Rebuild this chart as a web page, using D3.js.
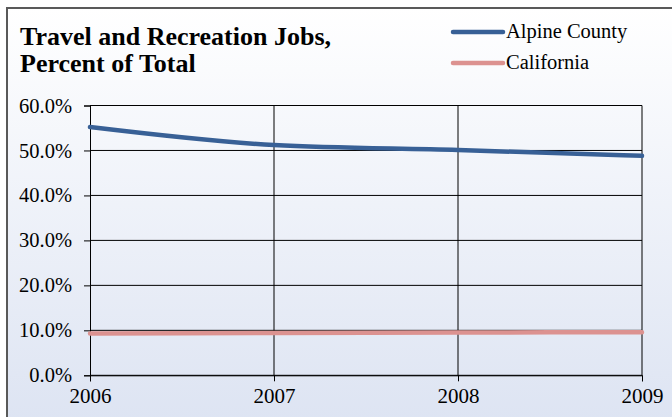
<!DOCTYPE html>
<html><head><meta charset="utf-8">
<script src="https://cdn.jsdelivr.net/npm/d3@7"></script>
<style>html,body{margin:0;padding:0;background:#fff;}svg{display:block;}
svg text{font-family:"Liberation Serif","Times New Roman",serif !important;}</style>
</head><body>
<script>
const years = [2006, 2007, 2008, 2009];
const alpine = [55.2, 51.2, 50.1, 48.8];
const california = [9.3, 9.4, 9.5, 9.6];
const yTicks = [0, 10, 20, 30, 40, 50, 60];
const seriesNames = ["Alpine County", "California"];
const seriesColors = ["#386096", "#dc9290"];

const W = 672, H = 417;
const svg = d3.select("body").append("svg").attr("width", W).attr("height", H);
const defs = svg.append("defs");
const grad = defs.append("linearGradient").attr("id","bg").attr("x1",0).attr("y1",0).attr("x2",0).attr("y2",1);
grad.append("stop").attr("offset","0%").attr("stop-color","#ffffff");
grad.append("stop").attr("offset","100%").attr("stop-color","#dce3f2");
svg.append("rect").attr("x",0).attr("y",0).attr("width",W).attr("height",H).attr("fill","#fff");
svg.append("rect").attr("x",7).attr("y",8).attr("width",W+10).attr("height",H+10).attr("fill","url(#bg)")
  .attr("stroke","#595959").attr("stroke-width",2);

const m = {l:90, r:642, t:105.5, b:375.3};
const x = d3.scaleLinear().domain([2006,2009]).range([m.l, m.r]);
const y = d3.scaleLinear().domain([0,60]).range([m.b, m.t]);

const g = svg.append("g");
g.selectAll(".hg").data(yTicks).join("line")
  .attr("x1", m.l).attr("x2", m.r).attr("y1", d=>y(d)).attr("y2", d=>y(d))
  .attr("stroke","#000").attr("stroke-width",1);
g.selectAll(".vg").data(years.slice(1)).join("line")
  .attr("x1", d=>x(d)).attr("x2", d=>x(d)).attr("y1", m.t).attr("y2", m.b)
  .attr("stroke","#000").attr("stroke-width",1);

const yAxis = d3.axisLeft(y).tickValues(yTicks).tickSize(6).tickPadding(12)
  .tickFormat(d => d.toFixed(1) + "%");
svg.append("g").attr("transform",`translate(${m.l},0)`).call(yAxis)
  .call(a=>{a.select(".domain").attr("stroke","#000");
    a.selectAll("line").attr("stroke","#000");
    a.selectAll("text").attr("font-size","20.5px").attr("fill","#000");});
const xAxis = d3.axisBottom(x).tickValues(years).tickSize(6).tickPadding(7).tickFormat(d3.format("d"));
svg.append("g").attr("transform",`translate(0,${m.b})`).call(xAxis)
  .call(a=>{a.select(".domain").attr("stroke","#000");
    a.selectAll("line").attr("stroke","#000");
    a.selectAll("text").attr("font-size","21px").attr("fill","#000");});

const line = d3.line().x((d,i)=>x(years[i])).y(d=>y(d)).curve(d3.curveMonotoneX);
[alpine, california].forEach((s,i)=>{
  svg.append("path").datum(s).attr("d", line).attr("fill","none")
    .attr("stroke", seriesColors[i]).attr("stroke-width",4.5).attr("stroke-linecap","round");
});

const t = svg.append("text").attr("font-weight","bold").attr("font-size","26px").attr("fill","#000");
t.append("tspan").attr("x",20).attr("y",45).text("Travel and Recreation Jobs,");
t.append("tspan").attr("x",20).attr("y",72).text("Percent of Total");

const lg = svg.append("g");
seriesNames.forEach((n,i)=>{
  const yy = 32 + i*31;
  lg.append("line").attr("x1",453).attr("x2",503).attr("y1",yy).attr("y2",yy)
    .attr("stroke",seriesColors[i]).attr("stroke-width",4.5).attr("stroke-linecap","round");
  lg.append("text").attr("x",506).attr("y",yy+6).attr("font-size","20.5px").attr("fill","#000").text(n);
});
</script>
</body></html>
